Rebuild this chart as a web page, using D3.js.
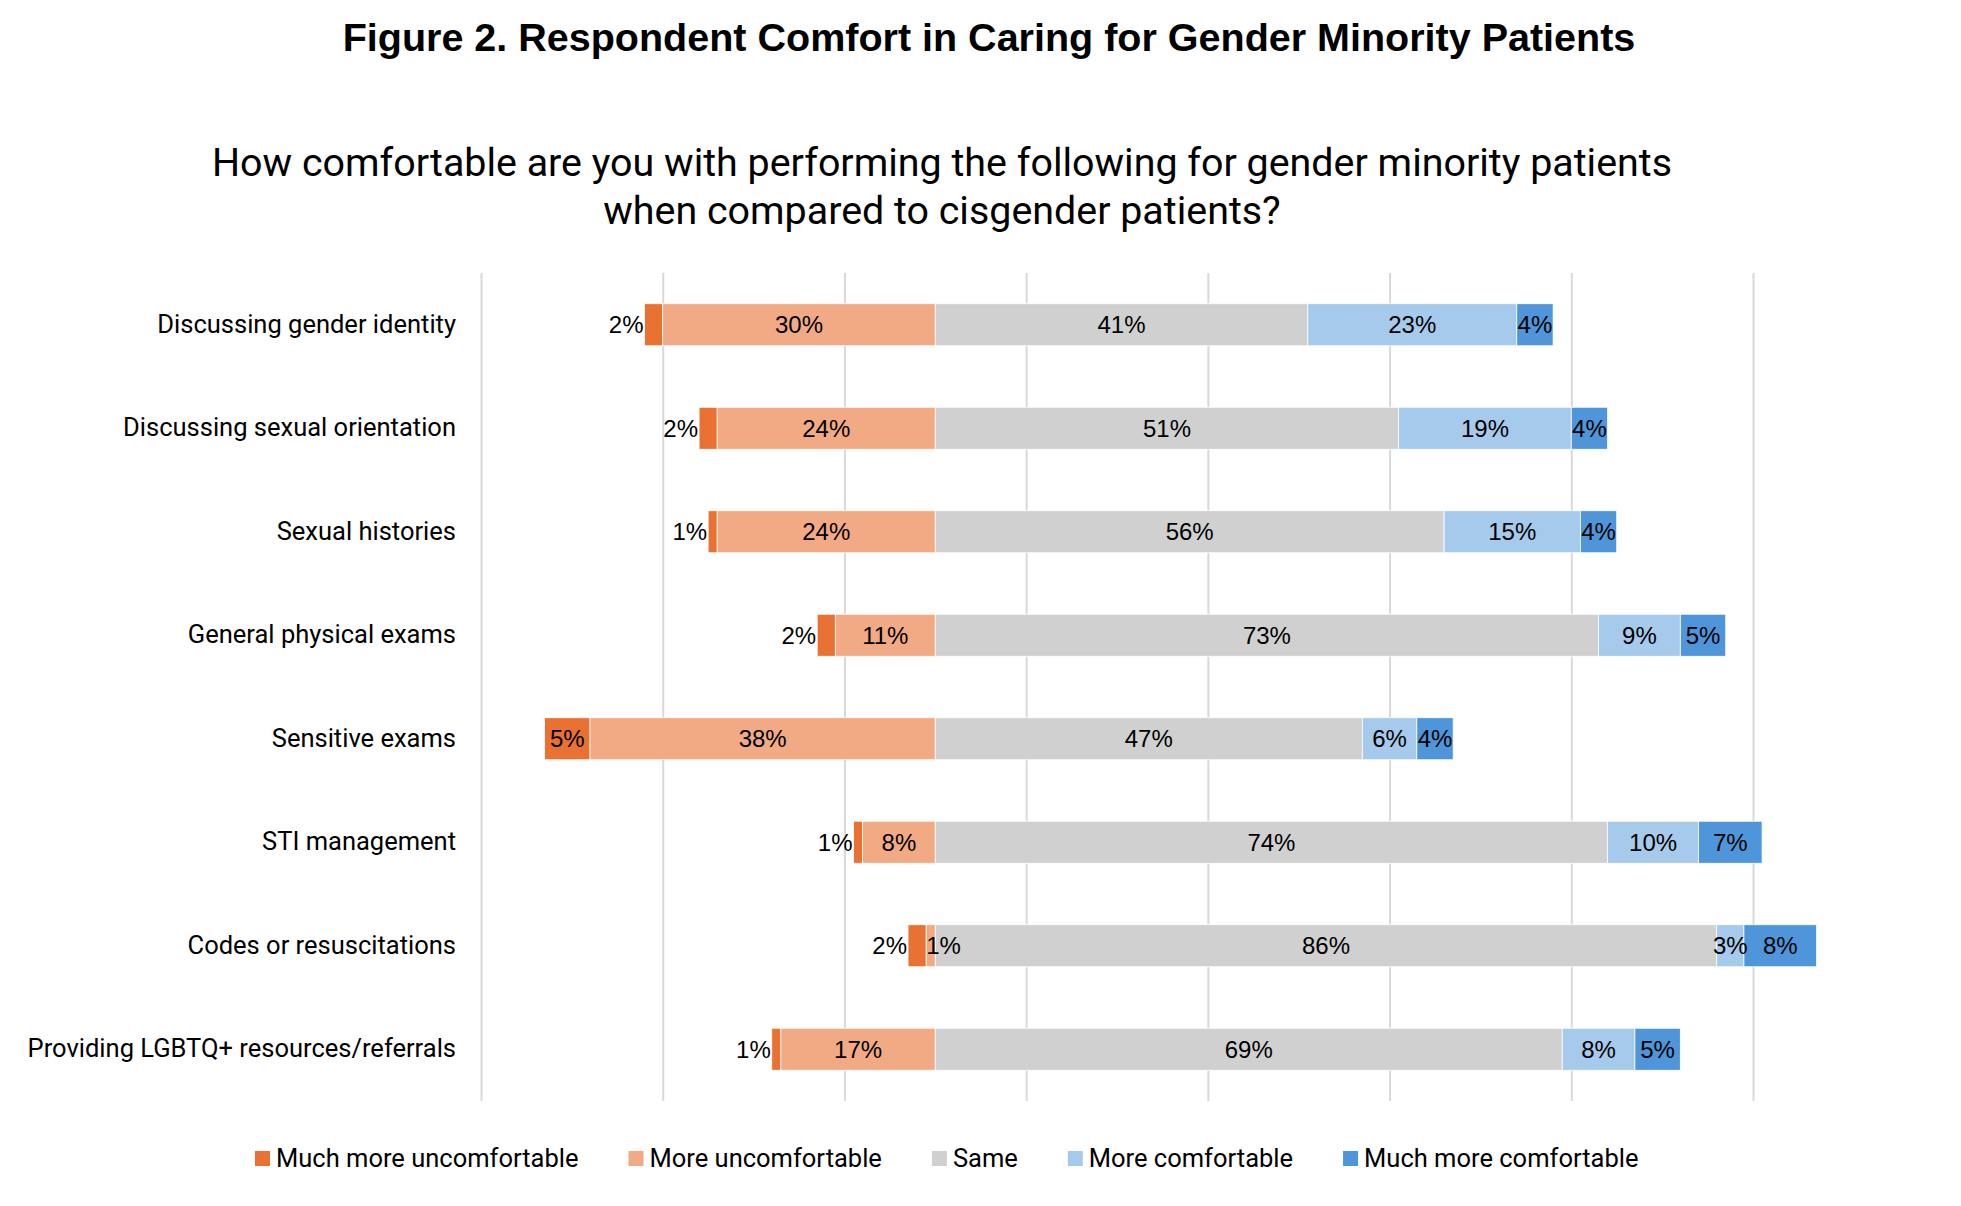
<!DOCTYPE html>
<html>
<head>
<meta charset="utf-8">
<script src="https://cdn.jsdelivr.net/npm/d3@7"></script>
<style>
  body { margin: 0; background: #fff; }
  svg { display: block; }
</style>
</head>
<body>
<div id="chart"></div>
<script>
// Chart data (percent of respondents)
var categories = [
  "Discussing gender identity",
  "Discussing sexual orientation",
  "Sexual histories",
  "General physical exams",
  "Sensitive exams",
  "STI management",
  "Codes or resuscitations",
  "Providing LGBTQ+ resources/referrals"
];
var seriesNames = ["Much more uncomfortable", "More uncomfortable", "Same", "More comfortable", "Much more comfortable"];
var muchUncomf = [2, 2, 1, 2, 5, 1, 2, 1];
var uncomf     = [30, 24, 24, 11, 38, 8, 1, 17];
var same       = [41, 51, 56, 73, 47, 74, 86, 69];
var comf       = [23, 19, 15, 9, 6, 10, 3, 8];
var muchComf   = [4, 4, 4, 5, 4, 7, 8, 5];
var gridTicks  = [-50, -30, -10, 10, 30, 50, 70, 90];

var colors = ["#E97132", "#F2AA84", "#D0D0D0", "#A6CAEC", "#4E95D9"];

var svgWidth = 1961;
var svgHeight = 1206;
var margin = { top: 273, right: 208, bottom: 105, left: 481 };
var chartWidth = svgWidth - margin.left - margin.right;
var chartHeight = svgHeight - margin.top - margin.bottom;

var svg = d3.select("#chart")
  .append("svg")
  .attr("width", svgWidth)
  .attr("height", svgHeight);

svg.append("rect").attr("width", svgWidth).attr("height", svgHeight).attr("fill", "#fff");

// titles
svg.append("text")
  .attr("x", 989)
  .attr("y", 51)
  .attr("text-anchor", "middle")
  .style("font-family", "'Liberation Sans', Arial, sans-serif")
  .style("font-weight", "bold")
  .style("font-size", "39.5px")
  .text("Figure 2. Respondent Comfort in Caring for Gender Minority Patients");

var sub = svg.append("text")
  .attr("text-anchor", "middle")
  .style("font-family", "Roboto, sans-serif")
  .style("font-size", "39.4px")
  .attr("fill", "#000");
sub.append("tspan").attr("x", 942).attr("y", 176)
  .text("How comfortable are you with performing the following for gender minority patients");
sub.append("tspan").attr("x", 942).attr("y", 224)
  .text("when compared to cisgender patients?");

var chartGroup = svg.append("g")
  .attr("transform", `translate(${margin.left}, ${margin.top})`);

var x = d3.scaleLinear()
  .domain([-50, 90])
  .range([0, chartWidth]);

var y = d3.scaleBand()
  .domain(categories)
  .range([0, chartHeight])
  .paddingInner(0.594)
  .paddingOuter(0.297);

// vertical gridlines
var grid = chartGroup.append("g")
  .attr("transform", `translate(0, ${chartHeight})`)
  .call(d3.axisBottom(x).tickValues(gridTicks).tickSize(chartHeight).tickFormat(""));
grid.select(".domain").remove();
grid.selectAll(".tick line")
  .attr("y2", -chartHeight)
  .attr("stroke", "#D9D9D9")
  .attr("stroke-width", 2);

// build the diverging stacks: "Same" starts at zero
var series = [muchUncomf, uncomf, same, comf, muchComf];
var segments = [];
categories.forEach(function(cat, i) {
  var start = -(muchUncomf[i] + uncomf[i]);
  series.forEach(function(vals, s) {
    segments.push({ cat: cat, s: s, value: vals[i], x0: start, x1: start + vals[i] });
    start += vals[i];
  });
});

chartGroup.append("g")
  .selectAll("rect")
  .data(segments)
  .enter()
  .append("rect")
    .attr("x", d => x(d.x0))
    .attr("y", d => y(d.cat))
    .attr("width", d => x(d.x1) - x(d.x0))
    .attr("height", y.bandwidth())
    .attr("fill", d => colors[d.s])
    .attr("stroke", "#fff")
    .attr("stroke-width", 0.8);

// data labels
var labels = chartGroup.append("g")
  .selectAll("text")
  .data(segments)
  .enter()
  .append("text")
    .attr("y", d => y(d.cat) + y.bandwidth() / 2)
    .attr("dy", "0.36em")
    .style("font-family", "'Liberation Sans', Arial, sans-serif")
    .style("font-size", "24px")
    .attr("fill", "#000")
    .text(d => d.value + "%");

labels.each(function(d) {
  var t = d3.select(this);
  var w = this.getComputedTextLength();
  var barW = x(d.x1) - x(d.x0);
  if (w > barW && d.s === 0) {
    t.attr("x", x(d.x0) - 1).attr("text-anchor", "end");
  } else if (w > barW && d.s === 1) {
    t.attr("x", x(d.x0)).attr("text-anchor", "start");
  } else {
    t.attr("x", (x(d.x0) + x(d.x1)) / 2).attr("text-anchor", "middle");
  }
});

// category labels
chartGroup.append("g")
  .selectAll("text")
  .data(categories)
  .enter()
  .append("text")
    .attr("x", -25)
    .attr("y", d => y(d) + y.bandwidth() / 2)
    .attr("dy", "0.32em")
    .attr("text-anchor", "end")
    .style("font-family", "Roboto, sans-serif")
    .style("font-size", "25.5px")
    .attr("fill", "#000")
    .text(d => d);

// legend
var legend = svg.append("g").attr("transform", "translate(255, 1151)");
var lx = 0;
seriesNames.forEach(function(name, i) {
  var item = legend.append("g").attr("transform", `translate(${lx}, 0)`);
  item.append("rect")
    .attr("width", 15)
    .attr("height", 15)
    .attr("fill", colors[i]);
  var txt = item.append("text")
    .attr("x", 21)
    .attr("y", 7.5)
    .attr("dy", "0.33em")
    .style("font-family", "Roboto, sans-serif")
    .style("font-size", "25.5px")
    .attr("fill", "#000")
    .text(name);
  lx += 21 + txt.node().getComputedTextLength() + 50;
});
</script>
</body>
</html>
